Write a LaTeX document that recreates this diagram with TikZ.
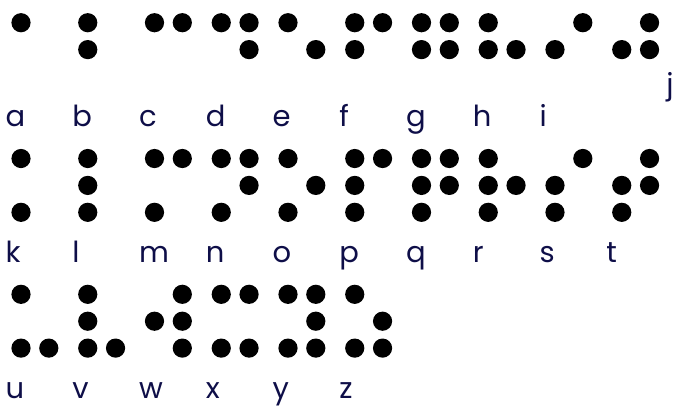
\documentclass[tikz,border=0pt]{standalone}
\usepackage{fontspec}
\setmainfont{Poppins}
\definecolor{letterink}{RGB}{14,14,72}

\begin{document}
\begin{tikzpicture}[x=1pt,y=-1pt,
        brailledot/.style={fill=black},
        letterlabel/.style={anchor=base west,inner sep=0pt,text=letterink,
              font=\fontsize{29}{30}\selectfont}]
        \useasboundingbox (0,0) rectangle (675,405);

        % letter / cell column / cell row / raised dots
        \foreach \ch/\k/\r/\pts in {a/0/0/{1}, b/1/0/{1,2}, c/2/0/{1,4},
              d/3/0/{1,4,5}, e/4/0/{1,5}, f/5/0/{1,2,4}, g/6/0/{1,2,4,5},
              h/7/0/{1,2,5}, i/8/0/{2,4}, j/9/0/{2,4,5},
              k/0/1/{1,3}, l/1/1/{1,2,3}, m/2/1/{1,3,4}, n/3/1/{1,3,4,5},
              o/4/1/{1,3,5}, p/5/1/{1,2,3,4}, q/6/1/{1,2,3,4,5},
              r/7/1/{1,2,3,5}, s/8/1/{2,3,4}, t/9/1/{2,3,4,5},
              u/0/2/{1,3,6}, v/1/2/{1,2,3,6}, w/2/2/{2,4,5,6},
              x/3/2/{1,3,4,6}, y/4/2/{1,3,4,5,6}, z/5/2/{1,3,5,6}}{
            \foreach \d in \pts {
                \pgfmathtruncatemacro\col{\d>3}
                \pgfmathtruncatemacro\rw{mod(\d-1,3)}
                \fill[brailledot] (21+66.75*\k+27.8*\col,22.7+135.8*\r+26.9*\rw)
                      circle[radius=9.6];
            }
        }

        % letters under the cells
        \foreach \ch/\k/\r in {a/0/0, b/1/0, c/2/0, d/3/0, e/4/0, f/5/0,
              g/6/0, h/7/0, i/8/0, k/0/1, l/1/1, m/2/1, n/3/1, o/4/1,
              p/5/1, q/6/1, r/7/1, s/8/1, t/9/1, u/0/2, v/1/2, w/2/2,
              x/3/2, y/4/2, z/5/2}{
            \node[letterlabel] (lbl\ch) at (5.5+66.75*\k,126.7+135.8*\r) {\ch};
        }
        \node[letterlabel,anchor=base] (lblj) at (670,94) {j};
    \end{tikzpicture}
\end{document}
